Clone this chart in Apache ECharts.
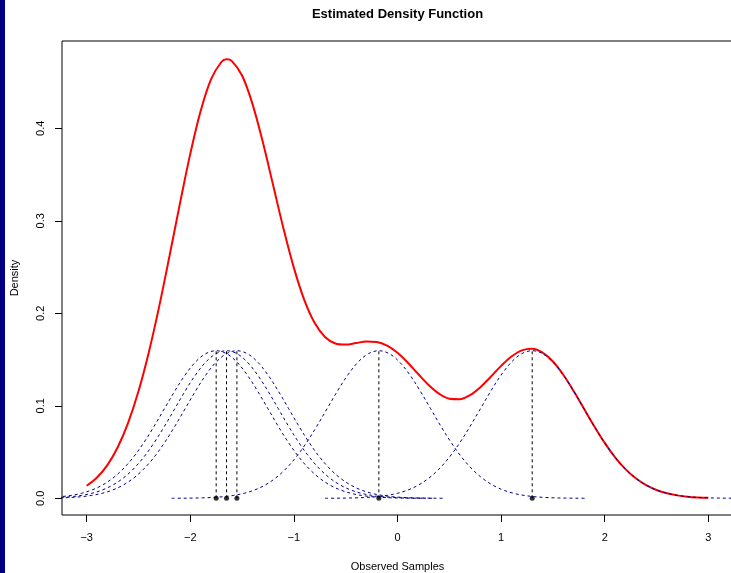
<!DOCTYPE html>
<html>
<head>
<meta charset="utf-8">
<script src="https://cdn.jsdelivr.net/npm/echarts@6/dist/echarts.min.js"></script>
<style>
  html, body { margin: 0; padding: 0; background: #fff; }
  #chart { width: 731px; height: 573px; }
</style>
</head>
<body>
<div id="chart"></div>
<script>
// ---- data ----
const titleText = 'Estimated Density Function';
const xName = 'Observed Samples';
const yName = 'Density';

const samples = [-1.75, -1.65, -1.55, -0.18, 1.30];

const kernelOffsets = [-2.0, -1.9, -1.8, -1.7, -1.6, -1.5, -1.4, -1.3, -1.2, -1.1, -1.0,
  -0.9, -0.8, -0.7, -0.6, -0.5, -0.4, -0.3, -0.2, -0.1, 0.0,
  0.1, 0.2, 0.3, 0.4, 0.5, 0.6, 0.7, 0.8, 0.9, 1.0,
  1.1, 1.2, 1.3, 1.4, 1.5, 1.6, 1.7, 1.8, 1.9, 2.0];
const kernelHeights = [0.00005, 0.00012, 0.00025, 0.00049, 0.00095, 0.00177, 0.00317, 0.00543, 0.00896, 0.01419, 0.02160,
  0.03158, 0.04437, 0.05989, 0.07768, 0.09679, 0.11588, 0.13329, 0.14731, 0.15642, 0.15958,
  0.15642, 0.14731, 0.13329, 0.11588, 0.09679, 0.07768, 0.05989, 0.04437, 0.03158, 0.02160,
  0.01419, 0.00896, 0.00543, 0.00317, 0.00177, 0.00095, 0.00049, 0.00025, 0.00012, 0.00005];
const kernelPeak = 0.15958;

const densityX = [-3.0, -2.9, -2.8, -2.7, -2.6, -2.5, -2.4, -2.3, -2.2, -2.1, -2.0,
  -1.9, -1.8, -1.7, -1.65, -1.6, -1.5, -1.4, -1.3, -1.2, -1.1, -1.0,
  -0.9, -0.8, -0.7, -0.6, -0.5, -0.4, -0.3, -0.2, -0.1, 0.0,
  0.1, 0.2, 0.3, 0.4, 0.5, 0.6, 0.7, 0.8, 0.9, 1.0,
  1.1, 1.2, 1.3, 1.4, 1.5, 1.6, 1.7, 1.8, 1.9, 2.0,
  2.1, 2.2, 2.3, 2.4, 2.5, 2.6, 2.7, 2.8, 2.9, 3.0];
const densityY = [0.01356, 0.02251, 0.03593, 0.05517, 0.08146, 0.11568, 0.15799, 0.20752, 0.26218, 0.31858, 0.37238,
  0.41872, 0.45301, 0.47169, 0.47454, 0.47295, 0.45706, 0.42642, 0.38515, 0.33840, 0.29149, 0.24909,
  0.21458, 0.18968, 0.17443, 0.16743, 0.16621, 0.16786, 0.16956, 0.16908, 0.16510, 0.15735,
  0.14659, 0.13434, 0.12255, 0.11315, 0.10772, 0.10717, 0.11159, 0.12017, 0.13136, 0.14314,
  0.15333, 0.15996, 0.16158, 0.15750, 0.14787, 0.13357, 0.11602, 0.09685, 0.07771, 0.05990,
  0.04437, 0.03158, 0.02160, 0.01419, 0.00896, 0.00543, 0.00317, 0.00177, 0.00095, 0.00049];

const xTickValues = [-3, -2, -1, 0, 1, 2, 3];
const xTickLabels = ['\u22123', '\u22122', '\u22121', '0', '1', '2', '3'];
const yTickValues = [0, 0.1, 0.2, 0.3, 0.4];
const yTickLabels = ['0.0', '0.1', '0.2', '0.3', '0.4'];

// ---- chart ----
const chart = echarts.init(document.getElementById('chart'), null, { renderer: 'canvas' });
const FONT = 'Liberation Sans, Arial, Helvetica, sans-serif';

const series = [];
series.push({
  type: 'line',
  name: 'density',
  data: densityX.map((x, i) => [x, densityY[i]]),
  showSymbol: false,
  symbol: 'none',
  smooth: 0.35,
  lineStyle: { color: '#ff0000', width: 2 },
  z: 2
});
samples.forEach((s, k) => {
  series.push({
    type: 'line',
    name: 'kernel' + k,
    data: kernelOffsets.map((o, i) => [s + o, kernelHeights[i]]),
    symbol: 'none',
    smooth: 0.35,
    lineStyle: { color: '#00008b', width: 1, type: [3, 3] },
    z: 3
  });
});
samples.forEach((s, k) => {
  series.push({
    type: 'line',
    name: 'vline' + k,
    data: [[s, 0], [s, kernelPeak]],
    symbol: 'none',
    lineStyle: { color: '#000000', width: 1, type: [3, 3] },
    z: 4
  });
});
series.push({
  type: 'scatter',
  name: 'samples',
  data: samples.map(s => [s, 0]),
  symbol: 'circle',
  symbolSize: 5,
  itemStyle: { color: '#000000' },
  z: 5
});

const xLabelMap = {};
xTickValues.forEach((v, i) => { xLabelMap[v] = xTickLabels[i]; });
const yLabelMap = {};
yTickValues.forEach((v, i) => { yLabelMap[v] = yTickLabels[i]; });

chart.setOption({
  animation: false,
  backgroundColor: '#ffffff',
  textStyle: { fontFamily: FONT },
  graphic: [
    { type: 'rect', shape: { x: 0, y: 0, width: 5, height: 573 }, style: { fill: '#000080' }, z: 10 },
    { type: 'text', x: 397.5, y: 14, style: { text: titleText, font: 'bold 13px ' + FONT, fill: '#000', textAlign: 'center', textVerticalAlign: 'middle' }, z: 10 }
  ],
  grid: { left: 62, top: 41, right: -2, bottom: 58, show: true, borderColor: '#000', borderWidth: 1, backgroundColor: 'transparent', containLabel: false, outerBoundsMode: 'none' },
  xAxis: {
    type: 'value',
    min: -3.238, max: 3.238,
    axisLine: { show: false, onZero: false },
    splitLine: { show: false },
    axisTick: { show: true, inside: false, length: 7, customValues: xTickValues, lineStyle: { color: '#000' } },
    axisLabel: { customValues: xTickValues, formatter: v => xLabelMap[v] !== undefined ? xLabelMap[v] : '', fontSize: 11, color: '#000', margin: 17, fontFamily: FONT },
    name: xName, nameLocation: 'middle', nameGap: 46,
    nameTextStyle: { fontSize: 11, color: '#000', fontFamily: FONT }
  },
  yAxis: {
    type: 'value',
    min: -0.01805, max: 0.4944,
    axisLine: { show: false, onZero: false },
    splitLine: { show: false },
    axisTick: { show: true, inside: false, length: 7, customValues: yTickValues, lineStyle: { color: '#000' } },
    axisLabel: { customValues: yTickValues, formatter: v => yLabelMap[v] !== undefined ? yLabelMap[v] : '', rotate: 90, fontSize: 11, color: '#000', margin: 16, fontFamily: FONT },
    name: yName, nameLocation: 'middle', nameGap: 42,
    nameTextStyle: { fontSize: 11, color: '#000', fontFamily: FONT }
  },
  series: series
});
</script>
</body>
</html>
